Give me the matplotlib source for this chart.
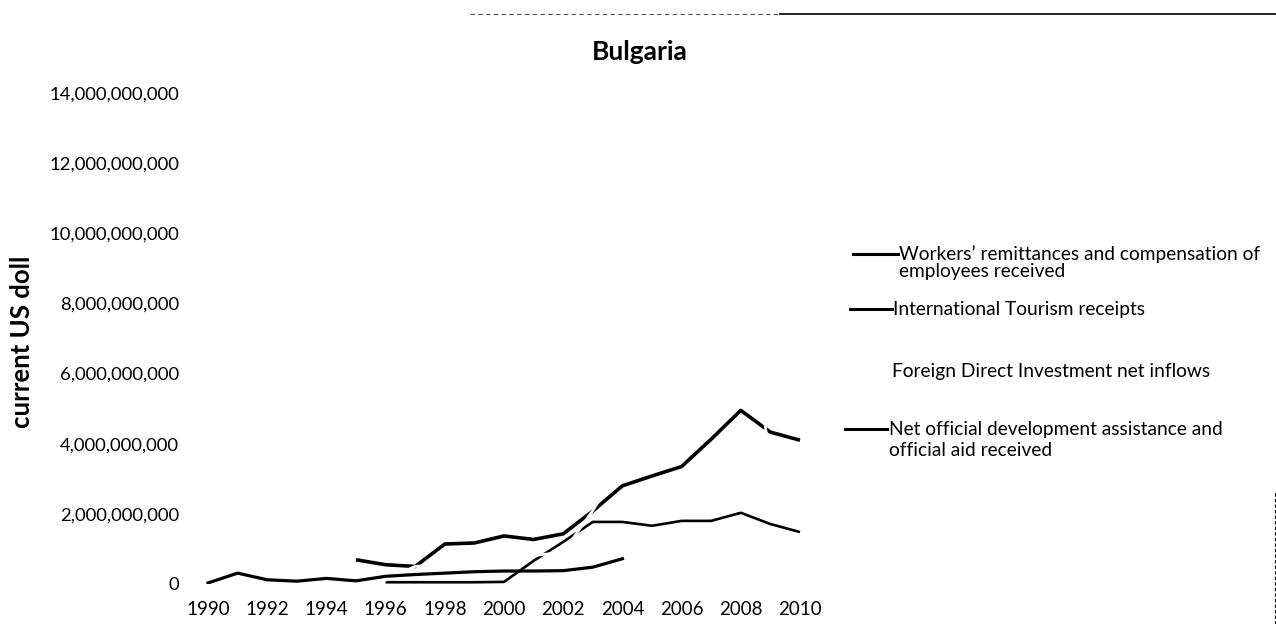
import matplotlib
matplotlib.use('Agg')
import matplotlib.pyplot as plt
from matplotlib.lines import Line2D
import numpy as np

plt.rcParams['font.family'] = ['Lato', 'DejaVu Sans']

years = list(range(1990, 2011))

# values in billions of current US$ (None = no data)
remittances = [None, None, None, None, None, None, 0.05, 0.05, 0.05, 0.05, 0.06,
               0.66, 1.20, 1.77, 1.77, 1.66, 1.80, 1.80, 2.03, 1.71, 1.48]
tourism = [None, None, None, None, None, 0.69, 0.55, 0.50, 1.14, 1.17, 1.37,
           1.27, 1.43, 2.08, 2.80, 3.08, 3.35, 4.13, 4.95, 4.33, 4.10]
# FDI line was a pale colour that vanished in the scan; only its gaps remain
fdi = [0.004, 0.056, 0.042, 0.040, 0.105, 0.090, 0.109, 0.505, 0.537, 0.819, 1.002,
       0.813, 0.905, 2.097, 3.443, 3.920, 7.805, 12.389, 9.855, 3.385, 1.601]
oda = [0.03, 0.31, 0.12, 0.08, 0.16, 0.09, 0.22, 0.27, 0.31, 0.35, 0.37,
       0.37, 0.38, 0.48, 0.72, None, None, None, None, None, None]

labels = ['Workers\u2019 remittances and compensation of\nemployees received',
          'International Tourism receipts',
          'Foreign Direct Investment net inflows',
          'Net official development assistance and\nofficial aid received']
yticks = np.arange(0, 14.1, 2)


def to_arr(vals):
    return np.array([np.nan if v is None else v * 1e9 for v in vals])


W, H = 1276, 624
fig = plt.figure(figsize=(W / 100, H / 100), dpi=100)
ax = fig.add_axes([193.2 / W, 1 - 584 / H, 621.6 / W, 491 / H])

ax.plot(years, to_arr(remittances), color='black', lw=1.9, solid_capstyle='butt')
ax.plot(years, to_arr(tourism), color='black', lw=2.6, solid_capstyle='butt')
ax.plot(years, to_arr(fdi), color='white', lw=2.0)
ax.plot(years, to_arr(oda), color='black', lw=2.3)

ax.set_xlim(1989.5, 2010.5)
ax.set_ylim(0, 14e9)
ax.set_xticks(range(1990, 2011, 2))
ax.set_xticklabels([str(y) for y in range(1990, 2011, 2)], fontsize=13.5)
ax.set_yticks(yticks * 1e9)
ax.set_yticklabels(['{:,.0f}'.format(v * 1e9) for v in yticks], fontsize=13.3)
ax.tick_params(axis='both', length=0)
ax.tick_params(axis='x', pad=12)
ax.tick_params(axis='y', pad=10)
for s in ax.spines.values():
    s.set_visible(False)

fig.text(640 / W, 1 - 52 / H, 'Bulgaria', ha='center', va='center',
         fontsize=19, fontweight='bold')
fig.text(22 / W, 1 - 342 / H, 'current US doll', ha='center', va='center',
         rotation=90, fontsize=18.5, fontweight='bold')

# legend drawn by hand, the scan has it staggered
leg = [((853, 898), 254, 899, [(254, labels[0].split('\n')[0]), (272, labels[0].split('\n')[1])]),
       ((850, 892), 309, 893, [(309, labels[1])]),
       (None, 372, 892, [(372, labels[2])]),
       ((845, 887), 429, 889, [(429, labels[3].split('\n')[0]), (450, labels[3].split('\n')[1])])]
for hx, hy, tx, lines in leg:
    if hx is not None:
        fig.add_artist(Line2D([hx[0] / W, hx[1] / W], [1 - hy / H, 1 - hy / H],
                              color='black', lw=2.2, transform=fig.transFigure))
    for ly, txt in lines:
        fig.text(tx / W, 1 - ly / H, txt, ha='left', va='center', fontsize=13.8)

# scan border remnants
fig.add_artist(Line2D([780 / W, 1], [1 - 14 / H, 1 - 14 / H], color='black', lw=1.2,
                      transform=fig.transFigure))
fig.add_artist(Line2D([470 / W, 780 / W], [1 - 14 / H, 1 - 14 / H], color='#555555', lw=0.8,
                      ls=(0, (4, 3)), transform=fig.transFigure))
fig.add_artist(Line2D([1275 / W, 1275 / W], [0, 1 - 492 / H], color='black', lw=0.8,
                      ls=(0, (3, 2)), transform=fig.transFigure))

fig.savefig('out.png', dpi=100)
